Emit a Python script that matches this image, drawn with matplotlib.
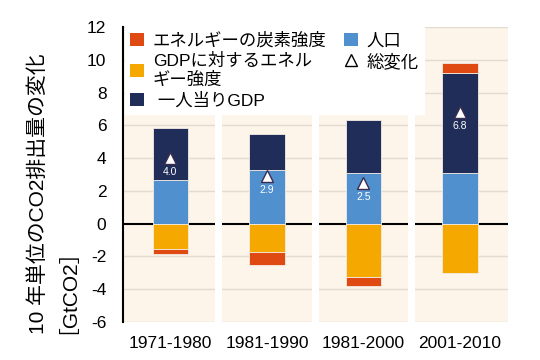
import matplotlib
matplotlib.use("Agg")
import matplotlib.pyplot as plt
from matplotlib.patches import Patch
from matplotlib.lines import Line2D
import numpy as np

plt.rcParams['font.family'] = ['Liberation Sans', 'Noto Sans CJK JP', 'DejaVu Sans']

categories = ["1971-1980", "1981-1990", "1981-2000", "2001-2010"]
population = [2.67, 3.24, 3.10, 3.10]
gdp_per_capita = [3.18, 2.20, 3.22, 6.07]
energy_intensity = [-1.55, -1.71, -3.26, -3.00]
carbon_intensity = [-0.33, -0.80, -0.55, 0.62]
total_change = [4.0, 2.9, 2.5, 6.8]
y_ticks = [-6, -4, -2, 0, 2, 4, 6, 8, 10, 12]

labels = ["エネルギーの炭素強度", "GDPに対するエネル\nギー強度", " 一人当りGDP", "人口", "総変化"]
c_red = "#DF4A12"
c_orange = "#F5A800"
c_dark = "#1F2D58"
c_blue = "#5090CF"
c_bg = "#FDF5EA"

fig = plt.figure(figsize=(5.4, 3.6), dpi=100)
ax = fig.add_axes([0.228, 0.106, 0.713, 0.819])
ax.set_facecolor(c_bg)

x = np.arange(len(categories))
w = 0.365
pop = np.array(population)
gdp = np.array(gdp_per_capita)
ene = np.array(energy_intensity)
car = np.array(carbon_intensity)

kw = dict(width=w, edgecolor="#f4ece4", linewidth=0.6, zorder=4)
ax.bar(x, pop, color=c_blue, **kw)
ax.bar(x, gdp, bottom=pop, color=c_dark, **kw)
ax.bar(x, ene, color=c_orange, **kw)
car_bottom = np.where(car >= 0, pop + gdp, ene)
ax.bar(x, car, bottom=car_bottom, color=c_red, **kw)

ax.plot(x, total_change, linestyle="none", marker="^", markersize=8,
        markerfacecolor="white", markeredgecolor="#3a2d4f", markeredgewidth=1.0, zorder=6)
for xi, t in zip(x, total_change):
    ax.annotate(f"{t:.1f}", (xi, t), xytext=(0, -6.5), textcoords="offset points",
                ha="center", va="top", color="white", fontsize=7.5, zorder=7)

ax.set_xlim(-0.49, 3.5)
ax.set_ylim(-6, 12)
ax.set_yticks(y_ticks)
ax.set_yticklabels([str(v) for v in y_ticks], fontsize=12.5)
ax.set_xticks(x)
ax.set_xticklabels(categories, fontsize=12.5)
ax.tick_params(axis="both", length=0)
ax.tick_params(axis="y", pad=12)
ax.tick_params(axis="x", pad=10)

for v in y_ticks:
    if v != 0:
        ax.axhline(v, color="#E2DBD0", linewidth=1.0, zorder=1)
ax.axhline(0, color="black", linewidth=1.5, zorder=2)
for g in [0.5, 1.5, 2.5]:
    ax.axvspan(g - 0.036, g + 0.036, color="white", zorder=3, linewidth=0)

for s in ["top", "right", "bottom"]:
    ax.spines[s].set_visible(False)
ax.spines["left"].set_linewidth(1.5)
ax.spines["left"].set_color("black")

handles = [Patch(facecolor=c_red), Patch(facecolor=c_orange), Patch(facecolor=c_dark),
           Patch(facecolor=c_blue),
           Line2D([], [], linestyle="none", marker="^", markersize=9,
                  markerfacecolor="white", markeredgecolor="black", markeredgewidth=1.0)]
leg = ax.legend(handles, labels, ncol=2, loc="upper left", bbox_to_anchor=(0.005, 1.0),
                fontsize=12.5, frameon=True, fancybox=False, framealpha=1.0,
                edgecolor="white", facecolor="white", borderaxespad=0,
                handlelength=0.8, handleheight=0.8, handletextpad=0.5,
                columnspacing=1.0, labelspacing=0.25, borderpad=0.3)
leg.set_zorder(10)

fig.text(0.088, 1 - 334 / 360, "10 年単位のCO2排出量の変化\n［GtCO2］", rotation=90,
         ha="center", va="bottom", multialignment="left", fontsize=15, linespacing=0.95)

fig.savefig("out.png", dpi=100)
